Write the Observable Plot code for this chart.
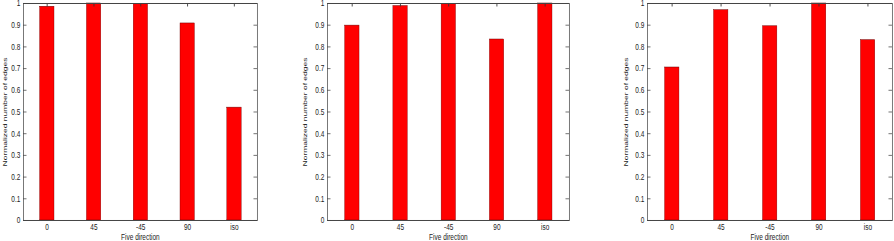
<!DOCTYPE html>
<html><head><meta charset="utf-8">
<script src="https://cdn.jsdelivr.net/npm/d3@7"></script>
<script src="https://cdn.jsdelivr.net/npm/@observablehq/plot@0.6"></script>
<style>
body{margin:0;background:#fff;width:894px;height:241px;overflow:hidden;position:relative}
.panel{position:absolute;top:0;width:420px}
.panel svg{transform-origin:0 0;transform:scaleX(0.72);overflow:visible;max-width:none!important}
</style></head><body>
<div id="p1" class="panel" style="left:0px"></div>
<div id="p2" class="panel" style="left:300px"></div>
<div id="p3" class="panel" style="left:594px"></div>
<script>
const directions = ["0", "45", "-45", "90", "iso"];
const panel1Values = [0.985, 1.0, 0.997, 0.908, 0.52];
const panel2Values = [0.898, 0.988, 0.997, 0.834, 1.0];
const panel3Values = [0.705, 0.969, 0.895, 1.0, 0.831];
const yTicks = [0, 0.1, 0.2, 0.3, 0.4, 0.5, 0.6, 0.7, 0.8, 0.9, 1];
const yLabel = "Normalized number of edges";
const xLabel = "Five direction";

const S = 0.72; // horizontal squeeze of the original figure
const H = 241, MT = 3, MB = 21;
const FONT = "'Liberation Sans', Arial, Helvetica, sans-serif";

function makePanel(id, values, cfg) {
  const W = cfg.svgW / S;
  const ml = cfg.left / S, mr = (cfg.svgW - cfg.right) / S;
  const pw = W - ml - mr, ph = H - MT - MB;
  const data = directions.map((d, i) => ({dir: d, value: values[i]}));
  const tl = 3.5 / S;
  const chart = Plot.plot({
    width: W, height: H,
    marginLeft: ml, marginRight: mr, marginTop: MT, marginBottom: MB,
    style: {fontFamily: FONT, fontSize: "9px", color: "#222", background: "transparent"},
    x: {domain: directions, paddingInner: 0.7, paddingOuter: 0.35},
    y: {domain: [0, 1]},
    marks: [
      Plot.barY(data, {x: "dir", y: "value", fill: "#ff0000", stroke: "#6a0000", strokeWidth: 0.5}),
      Plot.ruleY(yTicks, {y: d => d, insetRight: pw - tl, stroke: "#333", strokeWidth: 0.8}),
      Plot.ruleY(yTicks, {y: d => d, insetLeft: pw - tl, stroke: "#333", strokeWidth: 0.8}),
      Plot.ruleX(directions, {x: d => d, insetBottom: ph - 3.5, stroke: "#333", strokeWidth: 1}),
      Plot.frame({stroke: "#444", strokeWidth: 1}),
      Plot.axisY({ticks: yTicks, tickSize: 0, tickPadding: 3 / S, tickFormat: d => `${+d.toFixed(1)}`, label: null}),
      Plot.axisX({tickSize: 0, tickPadding: 3, label: null}),
      Plot.text([yLabel], {frameAnchor: "left", textAnchor: "middle", rotate: -90, dx: -cfg.labelGap / S, fontSize: 8.5, fill: "#222"}),
      Plot.text([xLabel], {frameAnchor: "bottom", dy: 16.5, lineAnchor: "middle", fontSize: 9, fill: "#222"})
    ]
  });
  document.getElementById(id).appendChild(chart);
}

makePanel("p1", panel1Values, {svgW: 290, left: 23, right: 257, labelGap: 18});
makePanel("p2", panel2Values, {svgW: 290, left: 27, right: 269, labelGap: 22});
makePanel("p3", panel3Values, {svgW: 300, left: 53, right: 298, labelGap: 21});
</script>
</body></html>
